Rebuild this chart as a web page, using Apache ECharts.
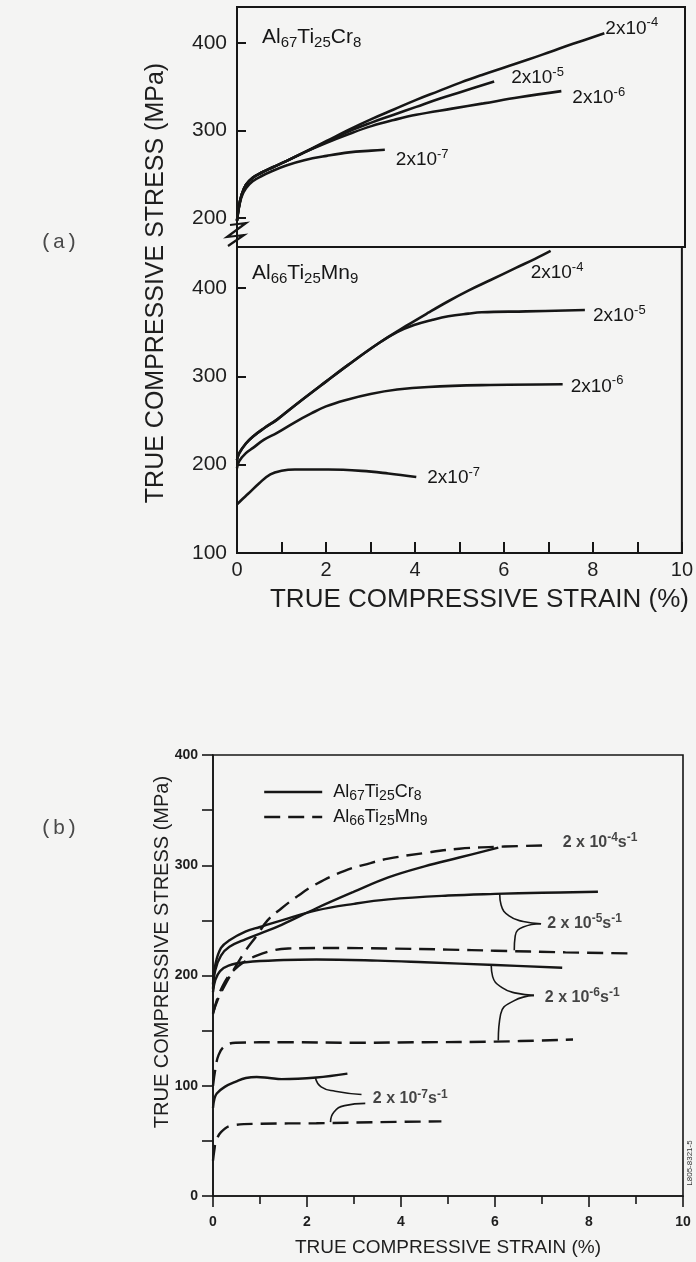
<!DOCTYPE html>
<html>
<head>
<meta charset="utf-8">
<script src="https://cdn.jsdelivr.net/npm/echarts@6/dist/echarts.min.js"></script>
<style>
html,body{margin:0;padding:0;background:#f4f4f3;}
#c{width:696px;height:1262px;}
</style>
</head>
<body>
<div id="c"></div>
<script>
// ---------- tick labels ----------
const strainTicks = [0, 2, 4, 6, 8, 10];
const aUpperStressTicks = [200, 300, 400];
const aLowerStressTicks = [100, 200, 300, 400];
const bStressTicks = [0, 100, 200, 300, 400];
const rateExponents = ['-4', '-5', '-6', '-7'];
const alloyNames = ['Al67Ti25Cr8', 'Al66Ti25Mn9'];

// ---------- panel (a), upper: Al67Ti25Cr8  [strain %, stress MPa] ----------
const aCr8_2e4 = [[0,197],[0.04,212],[0.1,226],[0.2,238],[0.35,246],[0.55,252],[0.8,258],[1.1,265],[1.5,275],[2.0,288],[2.5,301],[3.0,313],[3.5,324],[4.0,335],[4.5,345],[5.0,355],[5.5,364],[6.0,372.5],[6.5,381],[7.0,390],[7.5,399],[8.2,411]];
const aCr8_2e5 = [[0,197],[0.04,212],[0.1,226],[0.2,238],[0.35,246],[0.55,252],[0.8,258],[1.1,265],[1.5,275],[2.0,287],[2.5,299],[3.0,309],[3.5,318],[4.0,327],[4.5,336],[5.0,344],[5.74,356]];
const aCr8_2e6 = [[0,197],[0.04,212],[0.1,226],[0.2,238],[0.35,246],[0.55,252],[0.8,258],[1.1,265],[1.5,275],[2.0,286],[2.5,296],[3.0,305],[3.5,312],[4.0,318],[4.8,325],[5.5,331],[6.3,338],[7.24,345]];
const aCr8_2e7 = [[0,197],[0.04,211],[0.1,224],[0.2,234],[0.35,242],[0.55,248],[0.8,254],[1.1,260],[1.5,266],[2.0,271],[2.5,275],[3.0,277],[3.3,278]];

// ---------- panel (a), lower: Al66Ti25Mn9 ----------
const aMn9_2e4 = [[0,205],[0.05,213],[0.2,224],[0.36,232],[0.6,241],[0.9,251],[1.3,267],[2.0,294],[2.5,313],[3.2,338],[3.8,357],[4.3,372],[4.75,385],[5.2,397],[5.7,409],[6.28,423],[6.7,433],[7.05,442]];
const aMn9_2e5 = [[0,205],[0.05,213],[0.2,224],[0.36,232],[0.6,241],[0.9,251],[1.3,267],[2.0,294],[2.5,313],[3.2,338],[3.6,350],[3.98,358],[4.4,364],[4.75,368],[5.2,371],[5.5,372.5],[6.5,373.5],[7.82,375]];
const aMn9_2e6 = [[0,196],[0.05,204],[0.2,213],[0.36,219],[0.6,228],[0.9,236],[1.3,248],[1.67,258],[2.0,266],[2.43,273],[3.0,280],[3.6,285],[4.3,288],[5.5,290],[7.32,291]];
const aMn9_2e7 = [[0,155],[0.1,160],[0.25,167],[0.5,179],[0.75,189],[1.0,193],[1.3,194.5],[2.05,194.5],[2.8,193],[3.4,190],[4.03,186]];

// ---------- panel (b) ----------
const bCr8_2e4 = [[0,188],[0.05,205],[0.17,218],[0.35,226],[0.7,233],[1.0,238],[1.46,246],[2.2,261],[3.0,276],[3.73,289],[4.5,299],[5.24,307],[6.07,316]];
const bCr8_2e5 = [[0,192],[0.05,210],[0.17,225],[0.35,232],[0.7,240],[1.0,244],[1.46,250],[2.2,259],[3.0,265],[3.73,269],[5.0,272.5],[6.0,274],[7.0,275],[8.19,276]];
const bCr8_2e6 = [[0,185],[0.05,196],[0.15,204],[0.33,209],[0.7,212],[1.5,214],[2.2,214.5],[3.5,213.5],[4.5,212],[6.0,209.5],[7.43,207]];
const bCr8_2e7 = [[0,80],[0.03,88],[0.08,93],[0.25,99],[0.5,104],[0.7,107],[0.93,108],[1.2,107],[1.46,106],[2.2,107.5],[2.86,111]];
const bMn9_2e4 = [[0,166],[0.1,178],[0.25,191],[0.48,208],[0.7,223],[0.93,236],[1.16,250],[1.46,261],[1.8,272],[2.2,283],[2.8,295],[3.35,302],[3.73,306],[4.48,311],[5.24,315],[6.2,317],[7.13,318]];
const bMn9_2e5 = [[0,165],[0.1,180],[0.25,194],[0.4,203],[0.65,212],[0.93,218],[1.3,223],[1.6,224.5],[2.5,225],[3.73,224.5],[5.0,223.5],[6.0,222.5],[7.5,221],[8.9,220]];
const bMn9_2e6 = [[0,100],[0.05,115],[0.12,128],[0.25,136],[0.48,139],[1.5,139.5],[3.0,139],[4.5,139.5],[6.0,140],[7.66,142]];
const bMn9_2e7 = [[0,32],[0.03,42],[0.06,49],[0.17,58],[0.4,64],[1.0,65.5],[2.2,66],[3.5,67],[4.86,67.7]];

// callout braces in (b) (data coordinates)
const brace5 = [[[6.1,274],[6.13,264],[6.3,254],[6.6,249],[6.98,247]], [[6.98,247],[6.6,244],[6.43,236],[6.41,223]]];
const brace6 = [[[5.92,209],[5.95,199],[6.15,189],[6.45,184],[6.83,182]], [[6.83,182],[6.4,177],[6.12,165],[6.07,141]]];
const brace7 = [[[2.18,107],[2.3,99],[2.6,95],[3.16,92]], [[3.24,84],[2.8,82],[2.57,76],[2.5,67]]];
const bLabelX = [7.43, 7.1, 7.05, 3.39];
const bLabelY = [321, 247, 180, 88];

// ---------- styling ----------
const FONT = '"Liberation Sans", Arial, Helvetica, sans-serif';
const INK = '#161616';
const DASH = [16, 8];
const aUpperMin = 166.9, aUpperMax = 441.1, aLowerMax = 446.4;

function aRate(e) { return '2x10{sup|' + e + '}'; }
function bRate(e) { return '2 x 10{sup|' + e + '}s{sup|-1}'; }
function alloyRich(n) { return n.replace(/(\d+)/g, '{sub|$1}'); }

function aSeries(name, data, idx, exp, off) {
  return {
    type: 'line', name: name, xAxisIndex: idx, yAxisIndex: idx, data: data,
    smooth: 0.4, showSymbol: false, symbol: 'none', silent: true,
    itemStyle: { color: INK },
    lineStyle: { color: INK, width: 2.6 }, z: 3,
    endLabel: {
      show: true, formatter: aRate(exp), distance: 5, offset: off,
      color: INK, fontFamily: FONT, fontSize: 19, lineHeight: 24,
      rich: { sup: { fontSize: 13, lineHeight: 13, verticalAlign: 'top', fontFamily: FONT, color: INK } }
    }
  };
}
function bSeries(name, data, dashed) {
  return {
    type: 'line', name: name, xAxisIndex: 2, yAxisIndex: 2, data: data,
    smooth: 0.4, showSymbol: false, symbol: 'none', silent: true,
    itemStyle: { color: INK },
    lineStyle: { color: INK, width: 2.4, type: dashed ? DASH : 'solid' }, z: 3
  };
}
function braceSeries(pts) {
  return {
    type: 'line', name: 'brace', xAxisIndex: 2, yAxisIndex: 2, data: pts,
    smooth: 0.5, showSymbol: false, symbol: 'none', silent: true,
    itemStyle: { color: INK },
    lineStyle: { color: INK, width: 1.6 }, z: 2
  };
}

const aY = (id, min, max, ticks) => ({
  gridIndex: id, type: 'value', min: min, max: max,
  splitLine: { show: false },
  axisLine: { show: true, lineStyle: { color: INK, width: 2 } },
  axisTick: { show: true, inside: true, length: 9, customValues: ticks, lineStyle: { color: INK, width: 2 } },
  axisLabel: { customValues: ticks, color: '#1e1e1e', fontFamily: FONT, fontSize: 21, margin: 10 }
});

const chart = echarts.init(document.getElementById('c'), null, { renderer: 'canvas' });

const option = {
  animation: false,
  backgroundColor: '#f4f4f3',
  grid: [
    { left: 237, right: 11, top: 7, height: 240, show: true, borderColor: INK, borderWidth: 2, backgroundColor: 'transparent' },
    { left: 237, right: 11, top: 247, height: 306, show: true, borderColor: INK, borderWidth: 2, backgroundColor: 'transparent' },
    { left: 213, right: 13, top: 755, height: 441, show: true, borderColor: INK, borderWidth: 1.6, backgroundColor: 'transparent' }
  ],
  xAxis: [
    { gridIndex: 0, type: 'value', min: 0, max: 10, show: false },
    {
      gridIndex: 1, type: 'value', min: 0, max: 10, interval: 2,
      splitLine: { show: false },
      axisLine: { lineStyle: { color: INK, width: 2 } },
      axisTick: { inside: true, length: 11, lineStyle: { color: INK, width: 2 } },
      minorTick: { show: true, splitNumber: 2, length: 11, lineStyle: { color: INK, width: 2 } },
      axisLabel: { color: '#1e1e1e', fontFamily: FONT, fontSize: 20, margin: 7,
        customValues: strainTicks },
      name: 'TRUE COMPRESSIVE STRAIN (%)', nameLocation: 'middle', nameGap: 34,
      nameTextStyle: { color: '#1e1e1e', fontFamily: FONT, fontSize: 26, padding: [0, 0, 0, 40] }
    },
    {
      gridIndex: 2, type: 'value', min: 0, max: 10, interval: 2,
      splitLine: { show: false },
      axisLine: { lineStyle: { color: INK, width: 1.6 } },
      axisTick: { inside: false, length: 11, lineStyle: { color: INK, width: 1.6 } },
      minorTick: { show: true, splitNumber: 2, length: 8, lineStyle: { color: INK, width: 1.6 } },
      axisLabel: { color: '#1e1e1e', fontFamily: FONT, fontSize: 14, fontWeight: 'bold', margin: 19 },
      name: 'TRUE COMPRESSIVE STRAIN (%)', nameLocation: 'middle', nameGap: 42,
      nameTextStyle: { color: '#1e1e1e', fontFamily: FONT, fontSize: 19 }
    }
  ],
  yAxis: [
    aY(0, aUpperMin, aUpperMax, aUpperStressTicks),
    aY(1, 100, aLowerMax, aLowerStressTicks),
    {
      gridIndex: 2, type: 'value', min: 0, max: 400, interval: 100,
      splitLine: { show: false },
      axisLine: { show: true, lineStyle: { color: INK, width: 1.6 } },
      axisTick: { show: true, inside: false, length: 11, lineStyle: { color: INK, width: 1.6 } },
      minorTick: { show: true, splitNumber: 2, length: 11, lineStyle: { color: INK, width: 1.6 } },
      axisLabel: { color: '#1e1e1e', fontFamily: FONT, fontSize: 14, fontWeight: 'bold', margin: 15,
        customValues: bStressTicks }
    }
  ],
  legend: {
    data: alloyNames, left: 258, top: 776, orient: 'vertical',
    itemWidth: 58, itemHeight: 14, itemGap: 3, selectedMode: false,
    itemStyle: { opacity: 0 },
    lineStyle: { color: INK, width: 2.4 },
    formatter: n => alloyRich(n),
    textStyle: {
      color: INK, fontFamily: FONT, fontSize: 18, lineHeight: 22, padding: [0, 0, 0, 6],
      rich: { sub: { fontSize: 14, lineHeight: 14, verticalAlign: 'bottom', fontFamily: FONT, color: INK } }
    }
  },
  series: [
    aSeries('a-Cr8-2e-4', aCr8_2e4, 0, rateExponents[0], [-4, -5]),
    aSeries('a-Cr8-2e-5', aCr8_2e5, 0, rateExponents[1], [12, -4]),
    aSeries('a-Cr8-2e-6', aCr8_2e6, 0, rateExponents[2], [6, 7]),
    aSeries('a-Cr8-2e-7', aCr8_2e7, 0, rateExponents[3], [6, 10]),
    aSeries('a-Mn9-2e-4', aMn9_2e4, 1, rateExponents[0], [-25, 22]),
    aSeries('a-Mn9-2e-5', aMn9_2e5, 1, rateExponents[1], [3, 6]),
    aSeries('a-Mn9-2e-6', aMn9_2e6, 1, rateExponents[2], [3, 2]),
    aSeries('a-Mn9-2e-7', aMn9_2e7, 1, rateExponents[3], [6, 1]),
    bSeries(alloyNames[0], bCr8_2e4, false),
    bSeries(alloyNames[0], bCr8_2e5, false),
    bSeries(alloyNames[0], bCr8_2e6, false),
    bSeries(alloyNames[0], bCr8_2e7, false),
    bSeries(alloyNames[1], bMn9_2e4, true),
    bSeries(alloyNames[1], bMn9_2e5, true),
    bSeries(alloyNames[1], bMn9_2e6, true),
    bSeries(alloyNames[1], bMn9_2e7, true),
    braceSeries(brace5[0]), braceSeries(brace5[1]),
    braceSeries(brace6[0]), braceSeries(brace6[1]),
    braceSeries(brace7[0]), braceSeries(brace7[1]),
    {
      type: 'scatter', name: 'rate labels', xAxisIndex: 2, yAxisIndex: 2, silent: true,
      symbolSize: 1, itemStyle: { color: 'transparent' },
      data: bLabelX.map((x, i) => ({ value: [x, bLabelY[i]], label: { formatter: bRate(rateExponents[i]) } })),
      label: {
        show: true, position: 'right', distance: 0, color: INK, fontFamily: FONT, fontSize: 16, fontWeight: 'bold', lineHeight: 21,
        rich: { sup: { fontSize: 12, lineHeight: 12, verticalAlign: 'top', fontFamily: FONT, fontWeight: 'bold', color: INK } }
      }
    }
  ]
};
chart.setOption(option);

// ---------- text annotations & axis break ----------
const brk = chart.convertToPixel({ gridIndex: 0 }, [0, aUpperMin]);
const bx = brk[0], by = brk[1];
const subRich = (fs) => ({ sub: { fontSize: fs, lineHeight: fs, verticalAlign: 'bottom', fontFamily: FONT, fill: INK } });
chart.setOption({
  graphic: { elements: [
    { type: 'text', x: 59, y: 242, style: { text: '(a)', font: '21px "Liberation Mono", monospace', fill: '#4a4a4a', align: 'center', verticalAlign: 'middle', textAlign: 'center', textVerticalAlign: 'middle' } },
    { type: 'text', x: 59, y: 828, style: { text: '(b)', font: '21px "Liberation Mono", monospace', fill: '#4a4a4a', align: 'center', verticalAlign: 'middle', textAlign: 'center', textVerticalAlign: 'middle' } },
    { type: 'text', x: 156, y: 283, rotation: Math.PI / 2, style: { text: 'TRUE COMPRESSIVE STRESS (MPa)', font: '25px ' + FONT, fill: '#1e1e1e', align: 'center', verticalAlign: 'middle', textAlign: 'center', textVerticalAlign: 'middle' } },
    { type: 'text', x: 162, y: 952, rotation: Math.PI / 2, style: { text: 'TRUE COMPRESSIVE STRESS (MPa)', font: '20px ' + FONT, fill: '#1e1e1e', align: 'center', verticalAlign: 'middle', textAlign: 'center', textVerticalAlign: 'middle' } },
    { type: 'text', x: 262, y: 37, style: { text: alloyRich(alloyNames[0]), font: '21px ' + FONT, fill: INK, lineHeight: 26, rich: subRich(15), align: 'left', verticalAlign: 'middle', textAlign: 'left', textVerticalAlign: 'middle' } },
    { type: 'text', x: 252, y: 273, style: { text: alloyRich(alloyNames[1]), font: '21px ' + FONT, fill: INK, lineHeight: 26, rich: subRich(15), align: 'left', verticalAlign: 'middle', textAlign: 'left', textVerticalAlign: 'middle' } },
    { type: 'text', x: 690, y: 1163, rotation: Math.PI / 2, style: { text: 'L805-8321-5', font: '8px ' + FONT, fill: '#333', align: 'center', verticalAlign: 'middle', textAlign: 'center', textVerticalAlign: 'middle' } },
    { type: 'polyline', shape: { points: [[bx - 7, by - 22], [bx + 9, by - 24], [bx - 10, by - 10], [bx + 7, by - 12], [bx - 9, by - 1]] }, style: { stroke: INK, lineWidth: 2.2, fill: null } }
  ] }
});
</script>
</body>
</html>
